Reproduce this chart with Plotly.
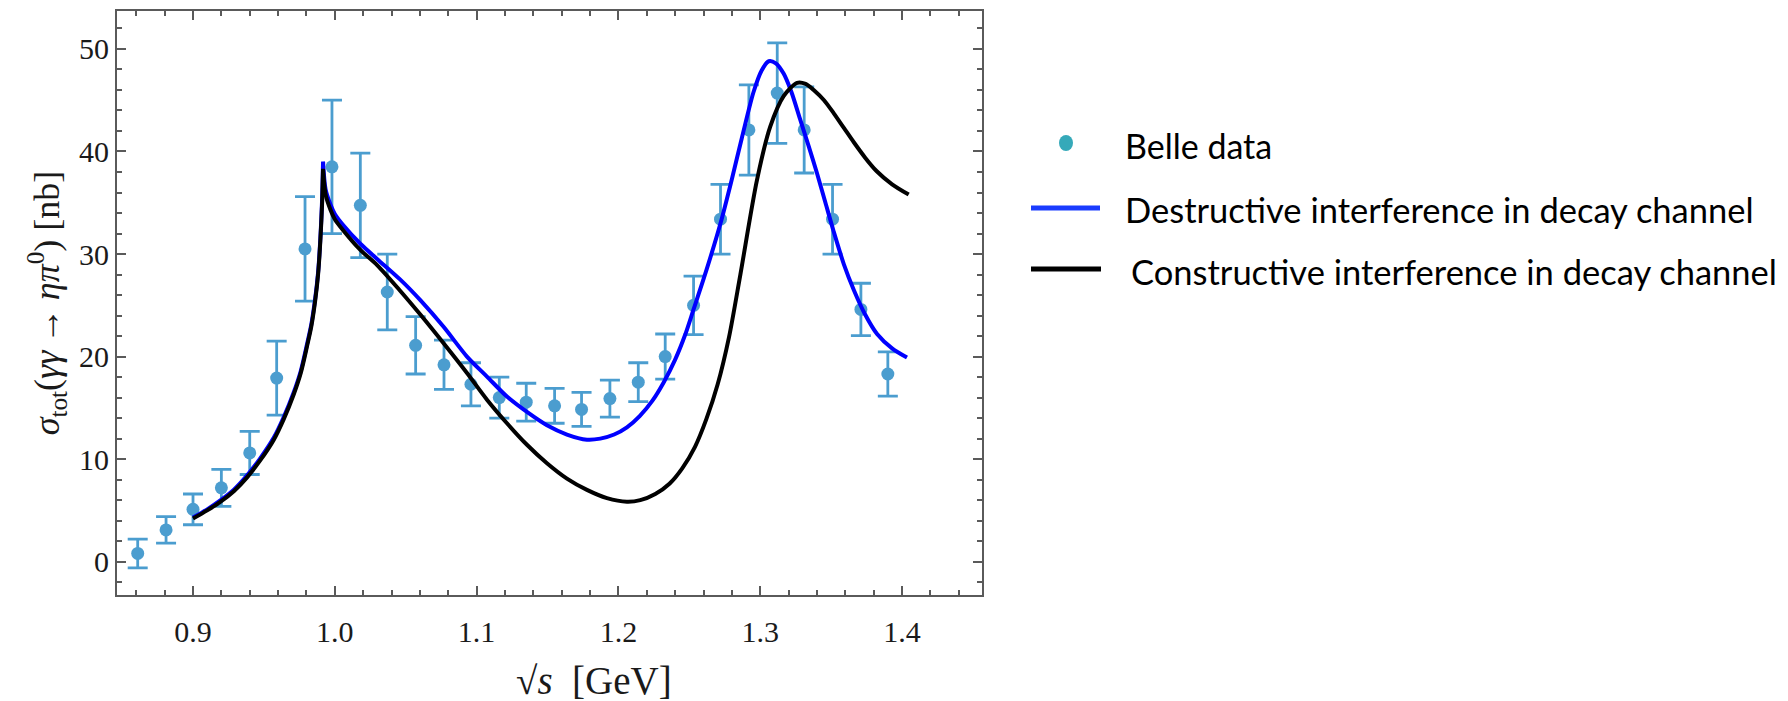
import plotly.graph_objects as go

# ---------------- data ----------------
sqrt_s_data = [0.861, 0.881, 0.900, 0.920, 0.940, 0.959, 0.979, 0.998, 1.018, 1.037,
               1.057, 1.077, 1.096, 1.116, 1.135, 1.155, 1.174, 1.194, 1.214, 1.233,
               1.253, 1.272, 1.292, 1.312, 1.331, 1.351, 1.371, 1.390]
sigma_data = [0.8, 3.1, 5.1, 7.2, 10.6, 17.9, 30.5, 38.5, 34.75, 26.3,
              21.1, 19.2, 17.3, 16.0, 15.55, 15.2, 14.85, 15.9, 17.5, 20.0,
              25.0, 33.4, 42.1, 45.7, 42.1, 33.4, 24.6, 18.3]
sigma_err = [1.4, 1.3, 1.5, 1.8, 2.1, 3.6, 5.1, 6.5, 5.1, 3.7,
             2.8, 2.4, 2.1, 2.0, 1.85, 1.7, 1.65, 1.8, 1.9, 2.2,
             2.85, 3.4, 4.4, 4.9, 4.2, 3.4, 2.55, 2.15]

# below the KK threshold (ends at the cusp)
x_below = [0.900, 0.910, 0.919, 0.929, 0.938, 0.947, 0.957, 0.964, 0.971, 0.976,
           0.9804, 0.9835, 0.9862, 0.9882, 0.9898, 0.9910, 0.9917]
destr_below = [4.3, 5.1, 5.95, 7.05, 8.4, 10.0, 12.1, 14.1, 16.5, 18.6,
               21.2, 23.2, 25.7, 28.2, 31.5, 35.2, 39.0]
constr_below = [4.2, 5.0, 5.8, 6.9, 8.2, 9.8, 11.9, 13.9, 16.3, 18.4,
                21.0, 23.0, 25.5, 28.0, 31.3, 34.8, 38.3]

# above the threshold (destructive interference)
x_destr_above = [0.9917, 0.9935, 0.997, 1.000, 1.006, 1.018, 1.030, 1.0462, 1.0603, 1.0767,
                 1.0932, 1.1073, 1.1214, 1.1355, 1.1496, 1.1637, 1.1778, 1.1872, 1.197, 1.206,
                 1.215, 1.224, 1.232, 1.240, 1.247, 1.253, 1.262, 1.272, 1.280, 1.287,
                 1.2953, 1.301, 1.306, 1.311, 1.3165, 1.322, 1.328, 1.334, 1.340, 1.346,
                 1.3518, 1.359, 1.366, 1.374, 1.3824, 1.393, 1.4035]
destr_above = [39.0, 36.3, 34.8, 33.9, 32.8, 31.0, 29.5, 27.5, 25.5, 22.9,
               20.0, 18.05, 16.1, 14.6, 13.3, 12.4, 11.9, 12.0, 12.4, 13.1,
               14.2, 15.7, 17.5, 19.7, 22.1, 24.6, 28.4, 33.0, 37.3, 41.3,
               45.8, 47.9, 48.8, 48.6, 47.6, 45.8, 43.2, 40.6, 37.9, 35.0,
               32.2, 29.0, 26.5, 24.1, 22.2, 20.8, 19.9]

# above the threshold (constructive interference)
x_constr_above = [0.9917, 0.9935, 0.997, 1.000, 1.006, 1.018, 1.030, 1.0462, 1.0603, 1.0767,
                  1.0932, 1.1073, 1.1214, 1.1355, 1.1496, 1.1637, 1.1778, 1.1919, 1.206, 1.2154,
                  1.226, 1.236, 1.245, 1.254, 1.262, 1.270, 1.278, 1.286, 1.2977, 1.307,
                  1.3165, 1.326, 1.332, 1.3377, 1.345, 1.352, 1.359, 1.366, 1.374, 1.382,
                  1.393, 1.4047]
constr_above = [38.3, 35.8, 34.3, 33.4, 32.3, 30.4, 28.9, 26.4, 24.1, 21.3,
                18.4, 15.8, 13.5, 11.4, 9.6, 8.1, 7.0, 6.2, 5.85, 6.0,
                6.6, 7.6, 9.1, 11.2, 13.9, 17.3, 21.9, 28.0, 37.2, 42.4,
                45.4, 46.7, 46.6, 46.0, 45.0, 43.7, 42.3, 40.9, 39.4, 38.1,
                36.8, 35.8]

legend_labels = ["Belle data",
                 "Destructive interference in decay channel",
                 "Constructive interference in decay channel"]

x_ticks = [0.9, 1.0, 1.1, 1.2, 1.3, 1.4]
y_ticks = [0, 10, 20, 30, 40, 50]

# ---------------- styling ----------------
DATA_COL = "#4b9dcf"
BLUE = "#0000ff"
BLACK = "#000000"
FRAME = "#5a5a5a"
SERIF = "Liberation Serif"
SANS = "Lato"

W, H = 1788, 701
L, R, T, B = 117, 1788 - 982, 11, 701 - 595
PW, PH = W - L - R, H - T - B

def px(x):
    return (x - L) / PW

def py(y):
    return (H - B - y) / PH

fig = go.Figure()

fig.add_trace(go.Scatter(
    x=sqrt_s_data, y=sigma_data, mode="markers",
    marker=dict(color=DATA_COL, size=13, line=dict(width=0)),
    error_y=dict(type="data", array=sigma_err, visible=True,
                 color=DATA_COL, thickness=2.8, width=10),
    showlegend=False, cliponaxis=False))

for xs, ys, col in [(x_below, destr_below, BLUE),
                    (x_destr_above, destr_above, BLUE),
                    (x_below, constr_below, BLACK),
                    (x_constr_above, constr_above, BLACK)]:
    fig.add_trace(go.Scatter(
        x=xs, y=ys, mode="lines",
        line=dict(color=col, width=4, shape="spline", smoothing=0.8),
        showlegend=False))

axis_common = dict(
    showline=True, linecolor=FRAME, linewidth=2, mirror="allticks",
    ticks="inside", ticklen=9, tickwidth=1.5, tickcolor=FRAME,
    showgrid=False, zeroline=False,
    tickfont=dict(family=SERIF, size=30, color="#1a1a1a"),
)

fig.update_xaxes(
    range=[0.8464, 1.4564], tickvals=x_ticks, tickformat=".1f",
    minor=dict(dtick=0.02, tick0=0.9, ticks="inside", ticklen=5,
               tickwidth=1.5, tickcolor=FRAME, showgrid=False),
    ticklabelstandoff=9,
    **axis_common)
fig.update_yaxes(
    range=[-3.25, 53.7], tickvals=y_ticks,
    minor=dict(dtick=2, tick0=0, ticks="inside", ticklen=5,
               tickwidth=1.5, tickcolor=FRAME, showgrid=False),
    ticklabelstandoff=0,
    title=dict(text="<i>σ</i><sub>tot</sub>(<i>γγ</i>\u2009→\u2009<i>ηπ</i><sup>0</sup>) [nb]",
               font=dict(family=SERIF, size=36, color="#1a1a1a"), standoff=8),
    **axis_common)

annotations = [
    dict(text="√<i>s</i>  [GeV]", x=px(594), y=py(680), xref="paper", yref="paper",
         xanchor="center", yanchor="middle", showarrow=False,
         font=dict(family=SERIF, size=39, color="#1a1a1a")),
    dict(text=legend_labels[0], x=px(1123), y=py(145), xref="paper", yref="paper",
         xanchor="left", yanchor="middle", showarrow=False,
         font=dict(family=SANS, size=34, color="#000000")),
    dict(text=legend_labels[1], x=px(1123), y=py(209), xref="paper", yref="paper",
         xanchor="left", yanchor="middle", showarrow=False,
         font=dict(family=SANS, size=34.5, color="#000000")),
    dict(text=legend_labels[2], x=px(1129), y=py(271), xref="paper", yref="paper",
         xanchor="left", yanchor="middle", showarrow=False,
         font=dict(family=SANS, size=34.5, color="#000000")),
]

shapes = [
    dict(type="circle", xref="paper", yref="paper", xsizemode="pixel", ysizemode="pixel",
         xanchor=px(1066), yanchor=py(143), x0=-7, x1=7, y0=-8, y1=8,
         fillcolor="#35a9b9", line=dict(width=0)),
    dict(type="line", xref="paper", yref="paper", x0=px(1031), x1=px(1100),
         y0=py(208), y1=py(208), line=dict(color="#1a3cff", width=5)),
    dict(type="line", xref="paper", yref="paper", x0=px(1031), x1=px(1101),
         y0=py(269), y1=py(269), line=dict(color="#000000", width=5)),
]

fig.update_layout(
    width=W, height=H,
    margin=dict(l=L, r=R, t=T, b=B, autoexpand=False),
    paper_bgcolor="white", plot_bgcolor="white",
    annotations=annotations, shapes=shapes,
    showlegend=False,
)

fig.write_html("out.html")
